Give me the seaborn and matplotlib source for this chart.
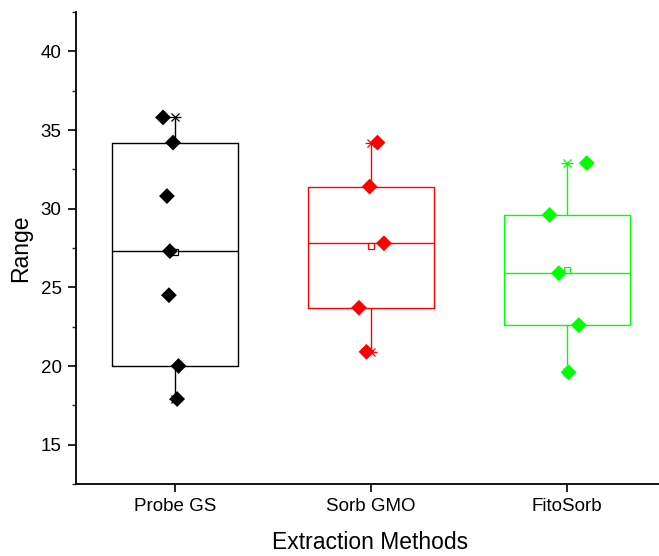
import numpy as np
import pandas as pd
import matplotlib
matplotlib.use("Agg")
import matplotlib.pyplot as plt
import seaborn as sns

# ---- data ----
categories = ["Probe GS", "Sorb GMO", "FitoSorb"]
probe_gs = [35.8, 34.2, 30.8, 27.3, 24.5, 20.0, 17.9]
sorb_gmo = [34.2, 31.4, 27.8, 23.7, 20.9]
fitosorb = [32.9, 29.6, 25.9, 22.6, 19.6]

# box statistics as drawn in the reference (Origin style)
box_q1 = [20.0, 23.7, 22.6]
box_median = [27.3, 27.8, 25.9]
box_q3 = [34.2, 31.4, 29.6]
whisker_low = [17.9, 20.9, 19.6]
whisker_high = [35.8, 34.2, 32.9]

# horizontal placement of the overlaid points (in category units)
probe_offsets = [-0.061, -0.010, -0.041, -0.026, -0.031, 0.018, 0.011]
sorb_offsets = [0.033, -0.007, 0.066, -0.061, -0.023]
fito_offsets = [0.101, -0.089, -0.042, 0.060, 0.008]

colors = ["#000000", "#FF0000", "#00FF00"]

sns.set_style("ticks")
plt.rcParams["font.family"] = ["Liberation Sans", "DejaVu Sans"]
plt.rcParams["text.color"] = "black"
plt.rcParams["axes.labelcolor"] = "black"

fig = plt.figure(figsize=(6.59, 5.56), dpi=100)
ax = fig.add_axes([76 / 659, 72 / 556, 589 / 659, 472 / 556])

values = [probe_gs, sorb_gmo, fitosorb]
offsets = [probe_offsets, sorb_offsets, fito_offsets]

rows = []
for i, (cat, vals, offs) in enumerate(zip(categories, values, offsets)):
    for v, o in zip(vals, offs):
        rows.append({"method": cat, "value": v, "xpos": i + o})
df = pd.DataFrame(rows)

# boxes
for i in range(3):
    stats = [{
        "q1": box_q1[i], "med": box_median[i], "q3": box_q3[i],
        "whislo": whisker_low[i], "whishi": whisker_high[i],
        "mean": float(np.mean(values[i])), "fliers": [], "label": categories[i],
    }]
    c = colors[i]
    ax.bxp(stats, positions=[i], widths=0.64, showcaps=False, showfliers=False,
           showmeans=True, manage_ticks=False,
           boxprops=dict(color=c, linewidth=1.0),
           medianprops=dict(color=c, linewidth=1.0),
           whiskerprops=dict(color=c, linewidth=1.0),
           meanprops=dict(marker="s", markerfacecolor="white", markeredgecolor=c,
                          markersize=4.5, markeredgewidth=0.9),
           zorder=2)
    # whisker end markers (Origin style x and dash)
    ax.plot([i, i], [whisker_low[i], whisker_high[i]], linestyle="none",
            marker="x", color=c, markersize=6, markeredgewidth=0.9, zorder=2.5)
    ax.plot([i, i], [whisker_low[i], whisker_high[i]], linestyle="none",
            marker="_", color=c, markersize=9, markeredgewidth=0.9, zorder=2.5)

# data points
sns.scatterplot(data=df, x="xpos", y="value", hue="method", palette=colors,
                marker="D", s=65, edgecolor="none", legend=False, ax=ax, zorder=3)

ax.set_xlim(-0.505, 2.5)
ax.set_ylim(12.5, 42.5)
ax.set_xticks([0, 1, 2])
ax.set_xticklabels(categories)
ax.set_yticks([15, 20, 25, 30, 35, 40])
ax.set_yticks(np.arange(12.5, 42.6, 2.5), minor=True)
ax.tick_params(axis="both", which="major", length=5.8, width=1.2, labelsize=13.5,
               direction="out", colors="black", labelcolor="black", pad=4.6)
ax.tick_params(axis="y", which="minor", length=2.6, width=1.0, direction="out")
ax.tick_params(axis="x", which="minor", length=0)
for s in ["left", "bottom"]:
    ax.spines[s].set_linewidth(1.3)
    ax.spines[s].set_color("black")
sns.despine(ax=ax, top=True, right=True)

ax.set_xlabel("Extraction Methods", fontsize=16.5, labelpad=11, color="black")
ax.set_ylabel("Range", fontsize=16.5, labelpad=6, color="black")

fig.savefig("out.png", dpi=100)
